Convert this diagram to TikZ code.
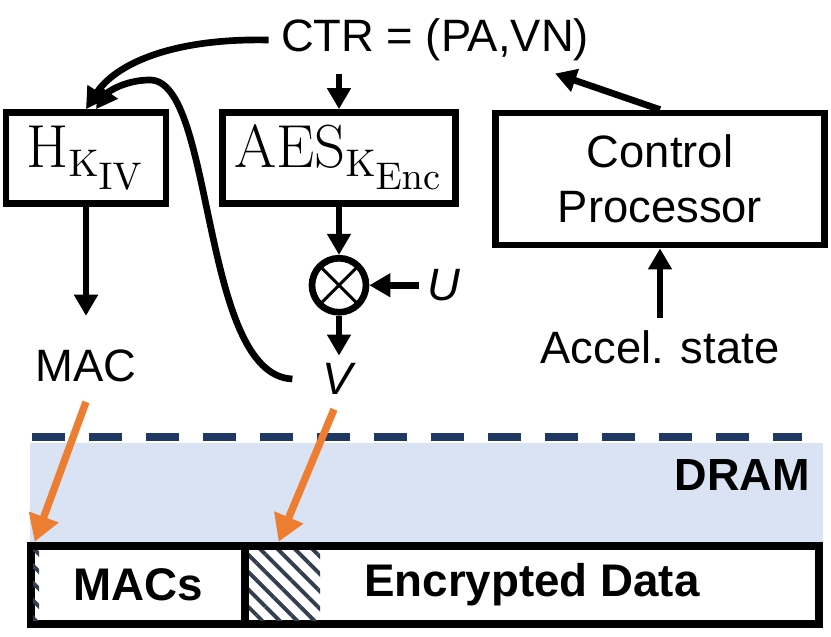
\documentclass[tikz,border=0pt]{standalone}
\usepackage{amsmath}
\usepackage[no-math]{fontspec}
\setmainfont{Liberation Sans}
\usetikzlibrary{arrows.meta, positioning, patterns.meta}

\definecolor{dramblue}{HTML}{DAE3F3}
\definecolor{dashnavy}{HTML}{203864}
\definecolor{hatchgray}{HTML}{333F50}
\definecolor{ptrorange}{HTML}{ED7D31}

\begin{document}
\begin{tikzpicture}[x=0.01cm, y=-0.01cm,
    plain text/.style={font=\fontsize{12.9}{15.6}\selectfont},
    key box/.style={draw, line width=1.9pt, minimum height=0.91cm, font=\fontsize{16}{18}\selectfont},
    letter/.style={plain text, inner sep=2pt},
    mixer/.style={draw, circle, line width=1.9pt, minimum size=0.54cm, inner sep=0pt,
        path picture={\draw[line width=0.9pt] (path picture bounding box.north west) -- (path picture bounding box.south east)
            (path picture bounding box.north east) -- (path picture bounding box.south west);}},
    mem box/.style={draw, line width=2.4pt, minimum height=0.78cm, font=\bfseries\fontsize{13}{15}\selectfont},
    wire/.style={line width=1.9pt, -{Triangle[length=6pt, width=6.5pt]}},
    pointer/.style={line width=2.1pt, ptrorange, -{Triangle[length=7.5pt, width=8.5pt]}}]
    \useasboundingbox (0,0) rectangle (831,637);

    % DRAM region
    \fill[dramblue] (30,443) rectangle (823,542);
    \draw[dashnavy, line width=2.3pt, dash pattern=on 9.4pt off 6.8pt] (32,437) -- (802,437);
    \node[font=\bfseries\fontsize{12.8}{15}\selectfont, anchor=east] (dram) at (822,475) {DRAM};

    \node[plain text] (ctr) at (435,40) {CTR = (PA,VN)};
    \node[key box, minimum width=1.6cm] (hiv) at (86,158) {$\mathrm{H}_{\mathrm{K}_{\scriptstyle\mathrm{IV}}}$};
    \node[key box, minimum width=2.24cm] (aes) at (339,158) {$\mathrm{AES}_{\mathrm{K}_{\scriptstyle\mathrm{Enc}}}$};
    \node[key box, minimum width=3.29cm, minimum height=1.32cm, align=center, plain text] (ctrl) at (660,179) {Control\\Processor};

    \node[mixer] (xor) [below = 0.48cm of aes] {};
    \node[letter] (u) [right = 0.5cm of xor] {\textit{U}};
    \node[letter] (v) [below = 0.4cm of xor] {\textit{V}};
    \node[plain text] (mac) [below = 1.3cm of hiv] {MAC};
    \node[plain text] (accel) [below = 0.7cm of ctrl] {Accel. state};

    \node[mem box, minimum width=2.14cm] (macs) at (138,585) {MACs};
    \node[mem box, minimum width=5.74cm] (enc) at (532,585) {Encrypted Data};
    \fill[pattern={Lines[angle=-45, distance=3.5pt, line width=1.1pt]}, pattern color=hatchgray] (249,550) rectangle (320,620);
    \fill[pattern={Lines[angle=-45, distance=3.5pt, line width=1.1pt]}, pattern color=hatchgray] (33,550) rectangle (39,620);

    \path[wire] (aes.north |- ctr.south) edge (aes.north);
    \path[wire] (aes.south) edge (xor.north);
    \path[wire] (u.west) edge (xor.east);
    \path[wire] (xor.south) edge (v.north);
    \path[wire, shorten >=6pt] (hiv.south) edge (mac.north);
    \path[wire] (accel.north) edge (ctrl.south);
    \path[wire] (ctrl.north) edge ([xshift=1.2cm]ctr.south);

    \draw[wire] (ctr.west) .. controls (170,38) and (115,65) .. (hiv.north);
    \draw[wire] ([xshift=-0.22cm]v.west) .. controls (200,375) and (215,80) .. (150,80)
        .. controls (125,80) and (108,92) .. ([xshift=0.1cm]hiv.north);

    \draw[pointer] ([yshift=-0.08cm]mac.south) -- ([xshift=0.08cm]macs.north west);
    \draw[pointer] ([xshift=-0.05cm, yshift=-0.07cm]v.south) -- ([xshift=0.38cm]enc.north west);
\end{tikzpicture}
\end{document}
